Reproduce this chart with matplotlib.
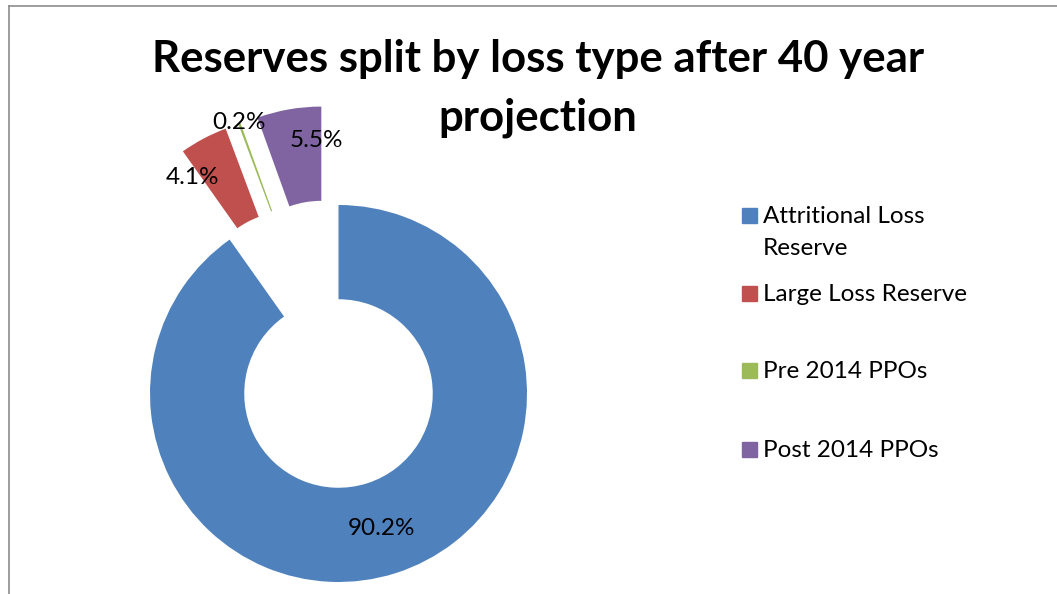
import numpy as np
import matplotlib
matplotlib.use("Agg")
import matplotlib.pyplot as plt
from matplotlib.patches import Rectangle
from matplotlib.lines import Line2D

plt.rcParams["font.family"] = ["Lato", "DejaVu Sans"]

# Data
categories = ["Attritional Loss\nReserve", "Large Loss Reserve", "Pre 2014 PPOs", "Post 2014 PPOs"]
shares = [90.2, 4.1, 0.2, 5.5]
pct_labels = ["90.2%", "4.1%", "0.2%", "5.5%"]
colors = ["#4F81BD", "#C0504D", "#9BBB59", "#8064A2"]
title = "Reserves split by loss type after 40 year\nprojection"

W, H = 1057, 594
fig = plt.figure(figsize=(W / 100, H / 100), dpi=100)

# chart centre and outer radius in pixels
cx, cy, R = 338.5, 393.5, 188.5
ax = fig.add_axes([0, 0, 1, 1])

explode = [0, 0.53, 0.53, 0.53]
wedges, _ = ax.pie(shares, colors=colors, explode=explode, startangle=90,
                   counterclock=False, radius=1,
                   wedgeprops=dict(width=0.5, linewidth=0))
ax.set_xlim(-cx / R, (W - cx) / R)
ax.set_ylim(-(H - cy) / R, cy / R)
ax.set_aspect("auto")
ax.axis("off")

# data labels: distance from slice centre and turn from bisector
lab_r = [0.75, 0.86, 1.0, 0.82]
lab_turn = [0, 10, 0, -8]
for w, txt, r, t in zip(wedges, pct_labels, lab_r, lab_turn):
    mid = np.deg2rad((w.theta1 + w.theta2) / 2 + t)
    x0, y0 = w.center
    ax.text(x0 + r * np.cos(mid), y0 + r * np.sin(mid), txt,
            ha="center", va="center", fontsize=17.5, color="black")


def fx(px):
    return px / W


def fy(py):
    return 1 - py / H


# title
for i, line in enumerate(title.split("\n")):
    fig.text(fx(538), fy(72 + 58 * i), line, ha="center", va="baseline",
             fontsize=31.5, fontweight="bold")

# legend (drawn by hand to keep Excel spacing)
leg_base = [223, 301, 378, 457]
for lab, col, b in zip(categories, colors, leg_base):
    fig.patches.append(Rectangle((fx(742), fy(b)), 15 / W, 15 / H,
                                 transform=fig.transFigure, color=col))
    for j, line in enumerate(lab.split("\n")):
        fig.text(fx(763), fy(b + 32 * j), line, ha="left", va="baseline",
                 fontsize=17.5)

# frame lines
fig.add_artist(Line2D([fx(9), fx(9)], [fy(5.5), 0], color="#8c8c8c", lw=1.2))
fig.add_artist(Line2D([fx(9), 1], [fy(5.5), fy(5.5)], color="#8c8c8c", lw=1.2))

fig.savefig("out.png", dpi=100)
